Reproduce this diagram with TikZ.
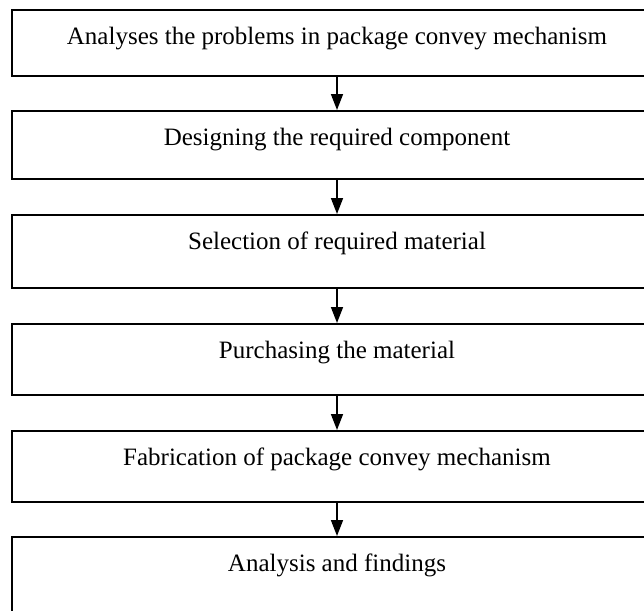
\documentclass[tikz,border=0pt]{standalone}
\usepackage{fontspec}
\setmainfont{Liberation Serif}
\usetikzlibrary{arrows.meta}

\tikzset{
    stage/.style={draw, line width=1.6pt, inner sep=0pt, minimum width=650pt,
        text height=35pt, text depth=#1, anchor=north,
        font=\fontsize{25}{30}\selectfont},
    flow/.style={-{Triangle[length=16pt,width=12pt]}, line width=1.6pt}
}

\begin{document}
\begin{tikzpicture}[x=1pt, y=1pt]
    \useasboundingbox (0, 0) rectangle (644, -610);
    \clip (0, 0) rectangle (644, -610);

    \node[stage=31pt] (problems)    at (337, -9)   {Analyses the problems in package convey mechanism};
    \node[stage=33pt] (design)      at (337, -110) {Designing the required component};
    \node[stage=38pt] (selection)   at (337, -214) {Selection of required material};
    \node[stage=36pt] (purchase)    at (337, -323) {Purchasing the material};
    \node[stage=36pt] (fabrication) at (337, -430) {Fabrication of package convey mechanism};
    \node[stage=58pt] (findings)    at (337, -536) {Analysis and findings};

    \draw[flow] (problems.south)    -- (design.north);
    \draw[flow] (design.south)      -- (selection.north);
    \draw[flow] (selection.south)   -- (purchase.north);
    \draw[flow] (purchase.south)    -- (fabrication.north);
    \draw[flow] (fabrication.south) -- (findings.north);
\end{tikzpicture}
\end{document}
